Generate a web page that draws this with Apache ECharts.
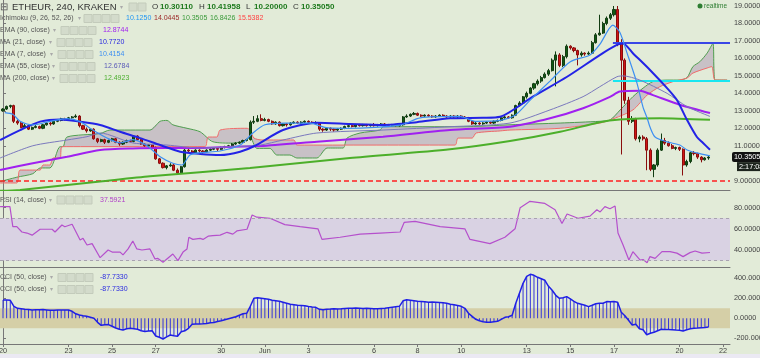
<!DOCTYPE html>
<html><head><meta charset="utf-8">
<style>html,body{margin:0;padding:0;background:#e2ebd8;}#c{width:760px;height:358px;}</style>
<script src="https://cdn.jsdelivr.net/npm/echarts@6/dist/echarts.min.js"></script>
</head><body><div id="c"></div><script>
// ---- x axis: one unit = one 4h bar, bar 0 = May 20 00:00 ----
const xTickBars = [0,18,30,42,60,72,84,102,114,126,144,156,168,186,198];
const xTickLabels = ['20','23','25','27','30','Jun','3','6','8','10','13','15','17','20','22'];
const priceTicks = [9,11,12,13,14,15,16,17,18,19];
const rsiTicks = [40,60,80];
const cciTicks = [-200,0,200,400];

// ---- candles [open, high, low, close] ----
const candles = [
[13.00,13.15,12.95,13.10],[13.10,13.30,13.05,13.25],[13.25,13.35,13.15,13.30],[13.30,13.35,12.30,12.40],
[12.40,12.50,12.20,12.30],[12.30,12.35,12.00,12.05],[12.05,12.25,12.00,12.15],[12.15,12.20,11.90,11.95],
[11.95,12.10,11.90,12.05],[12.05,12.20,12.00,12.10],[12.10,12.15,11.95,12.00],[12.00,12.25,11.95,12.20],
[12.20,12.35,12.15,12.30],[12.30,12.35,12.15,12.25],[12.25,12.45,12.20,12.40],[12.40,12.50,12.35,12.45],
[12.45,12.60,12.40,12.55],[12.55,12.60,12.45,12.50],[12.50,12.65,12.45,12.60],[12.60,12.70,12.55,12.65],
[12.65,12.80,12.60,12.70],[12.70,12.75,12.05,12.15],[12.15,12.20,11.90,11.95],[11.95,12.05,11.75,11.85],
[11.85,12.00,11.80,11.95],[11.95,12.00,11.35,11.40],[11.40,11.45,11.15,11.25],[11.25,11.40,11.20,11.35],
[11.35,11.40,11.10,11.20],[11.20,11.35,11.15,11.30],[11.30,11.45,11.25,11.40],[11.40,11.45,11.15,11.20],
[11.20,11.25,11.00,11.10],[11.10,11.25,11.05,11.20],[11.20,11.35,11.15,11.30],[11.30,11.35,11.20,11.25],
[11.25,11.60,11.20,11.55],[11.55,11.60,11.30,11.35],[11.35,11.40,11.05,11.10],[11.10,11.15,10.95,11.00],
[11.00,11.10,10.90,11.05],[11.05,11.10,10.85,10.90],[10.90,10.95,10.20,10.25],[10.25,10.30,9.95,10.00],
[10.00,10.05,9.70,9.75],[9.75,9.90,9.65,9.85],[9.85,10.00,9.80,9.90],[9.90,9.95,9.55,9.60],
[9.60,9.70,9.33,9.45],[9.45,9.85,9.40,9.80],[9.80,10.85,9.75,10.75],[10.75,10.85,10.60,10.70],
[10.70,10.75,10.50,10.60],[10.60,10.80,10.55,10.75],[10.75,10.80,10.60,10.70],[10.70,10.75,10.55,10.65],
[10.65,10.80,10.60,10.75],[10.75,10.85,10.70,10.80],[10.80,10.90,10.75,10.85],[10.85,10.90,10.70,10.80],
[10.80,10.95,10.75,10.90],[10.90,11.00,10.85,10.95],[10.95,11.05,10.90,11.00],[11.00,11.15,10.95,11.10],
[11.10,11.20,11.05,11.15],[11.15,11.25,11.10,11.20],[11.20,11.35,11.15,11.30],[11.30,11.40,11.25,11.35],
[11.35,12.45,11.30,12.35],[12.35,12.70,12.25,12.40],[12.40,12.75,12.35,12.55],[12.55,12.80,12.40,12.45],
[12.45,12.60,12.40,12.50],[12.50,12.55,12.35,12.40],[12.40,12.45,12.20,12.25],[12.25,12.40,12.20,12.35],
[12.35,12.40,12.10,12.15],[12.15,12.30,12.10,12.25],[12.25,12.30,12.10,12.20],[12.20,12.35,12.15,12.30],
[12.30,12.40,12.25,12.35],[12.35,12.40,12.25,12.30],[12.30,12.40,12.25,12.35],[12.35,12.45,12.30,12.40],
[12.40,12.45,12.30,12.35],[12.35,12.40,12.25,12.30],[12.30,12.40,12.25,12.30],[12.30,12.35,11.85,11.95],
[11.95,12.00,11.80,11.90],[11.90,12.05,11.85,12.00],[12.00,12.05,11.85,11.95],[11.95,12.00,11.80,11.90],
[11.90,12.00,11.85,11.95],[11.95,12.05,11.90,12.00],[12.00,12.15,11.95,12.10],[12.10,12.20,12.05,12.15],
[12.15,12.20,12.05,12.10],[12.10,12.25,12.05,12.20],[12.20,12.25,12.10,12.15],[12.15,12.25,12.10,12.20],
[12.20,12.25,12.10,12.15],[12.15,12.25,12.10,12.20],[12.20,12.30,12.10,12.15],[12.15,12.25,12.10,12.20],
[12.20,12.30,12.15,12.25],[12.25,12.30,12.15,12.20],[12.20,12.25,12.10,12.15],[12.15,12.25,12.10,12.20],
[12.20,12.25,12.10,12.15],[12.15,12.25,12.10,12.20],[12.20,12.70,12.15,12.65],[12.65,12.80,12.60,12.70],
[12.70,12.85,12.65,12.80],[12.80,12.93,12.75,12.85],[12.85,12.90,12.70,12.75],[12.75,12.80,12.65,12.70],
[12.70,12.80,12.65,12.75],[12.75,12.80,12.65,12.70],[12.70,12.75,12.60,12.65],[12.65,12.75,12.60,12.70],
[12.70,12.80,12.65,12.75],[12.75,12.80,12.65,12.70],[12.70,12.75,12.60,12.65],[12.65,12.75,12.60,12.70],
[12.70,12.75,12.60,12.65],[12.65,12.75,12.60,12.70],[12.70,12.75,12.60,12.65],[12.65,12.70,12.55,12.60],
[12.60,12.65,12.35,12.40],[12.40,12.45,12.20,12.25],[12.25,12.35,12.20,12.30],[12.30,12.35,12.20,12.25],
[12.25,12.35,12.20,12.30],[12.30,12.40,12.25,12.35],[12.35,12.40,12.25,12.30],[12.30,12.45,12.25,12.40],
[12.40,12.50,12.35,12.45],[12.45,12.65,12.40,12.60],[12.60,12.70,12.55,12.65],[12.65,12.70,12.55,12.60],
[12.60,12.80,12.55,12.75],[12.75,13.35,12.70,13.30],[13.30,13.55,13.25,13.45],[13.45,13.85,13.40,13.80],
[13.80,14.10,13.70,14.00],[14.00,14.35,13.95,14.30],[14.30,14.60,14.20,14.55],[14.55,14.80,14.45,14.70],
[14.70,15.00,14.60,14.90],[14.90,15.20,14.85,15.10],[15.10,15.40,15.00,15.30],[15.30,16.00,15.25,15.90],
[15.90,16.40,14.40,16.20],[16.20,16.30,15.50,15.60],[15.60,16.20,15.50,16.10],[16.10,16.80,16.00,16.70],
[16.70,16.75,16.50,16.60],[16.60,16.65,16.35,16.45],[16.45,16.50,15.60,16.20],[16.20,16.40,16.10,16.30],
[16.30,16.35,16.15,16.25],[16.25,16.40,16.20,16.30],[16.30,17.00,16.25,16.90],[16.90,17.45,16.85,17.35],
[17.35,18.50,17.30,17.45],[17.45,18.10,17.40,18.00],[18.00,18.40,17.90,18.30],[18.30,18.60,18.20,18.50],
[18.50,19.00,18.40,18.80],[18.80,19.00,16.70,16.90],[16.90,17.10,10.50,15.90],[15.90,16.00,13.40,13.60],
[13.60,13.80,12.20,12.40],[12.40,12.70,12.30,12.55],[12.55,12.60,11.30,11.40],[11.40,11.60,11.20,11.50],
[11.50,11.60,11.30,11.40],[11.40,11.50,9.60,10.75],[10.75,10.85,9.55,9.65],[9.65,9.95,9.20,9.90],
[9.90,10.85,9.80,10.75],[10.75,11.70,10.70,11.30],[11.30,11.45,11.05,11.15],[11.15,11.25,10.95,11.00],
[11.00,11.10,10.80,10.85],[10.85,10.95,10.75,10.90],[10.90,10.95,10.70,10.80],[10.80,10.85,9.30,9.90],
[9.90,10.20,9.80,10.10],[10.10,10.65,10.00,10.60],[10.60,10.70,10.45,10.55],[10.55,10.60,10.25,10.35],
[10.35,10.40,10.05,10.20],[10.20,10.35,10.15,10.30],[10.3011,10.41958,10.20,10.3505]
];

// ---- indicator lines [bar, value] ----
const ma21 = [[-0.8,11.33],[4.7,11.9],[10.2,12.38],[15.7,12.51],[21.2,12.38],[26.7,12.19],[32.2,11.8],[37.7,11.44],[43.2,11.04],[48.7,10.66],[54.2,10.53],[59.7,10.47],[65.2,10.66],[69.3,11.0],[77.0,11.9],[86.3,12.32],[95.4,12.25],[104.5,12.19],[113.8,12.35],[122.9,12.57],[132.0,12.6],[136.7,12.66],[145.7,13.81],[155.1,14.95],[164.1,16.19],[168.8,16.77],[170.5,16.86],[173.2,16.3],[177.9,15.34],[182.6,14.3],[185.3,13.62],[188.1,12.47],[190.8,11.5],[192.5,11.16],[194.4,10.77]];
const ema7 = [[0.5,12.9],[2.7,12.8],[4.7,12.4],[8.2,12.19],[12.9,12.4],[17.6,12.55],[21.2,12.38],[24.7,11.9],[28.6,11.44],[32.2,11.16],[35.7,11.35],[39.6,11.0],[43.2,10.37],[46.7,10.0],[49.2,9.9],[51.4,10.47],[54.2,10.6],[59.7,10.7],[65.2,11.04],[68.7,11.73],[72.0,12.2],[77.5,12.3],[84.4,12.3],[88.5,12.05],[94.0,12.0],[109.2,12.18],[114.7,12.6],[125.7,12.68],[129.8,12.4],[136.7,12.45],[140.8,12.75],[144.9,13.6],[150.4,14.7],[155.9,15.8],[161.4,16.2],[164.1,16.8],[167.7,17.9],[169.6,17.5],[171.6,16.3],[174.3,14.6],[176.0,13.2],[177.1,12.6],[177.9,12.07],[179.3,11.5],[182.6,11.22],[186.1,11.04],[188.1,10.76],[190.8,10.59],[194.4,10.42]];
const ema55 = [[-0.8,10.3],[8.2,11.0],[17.6,11.33],[23.1,11.52],[26.7,11.73],[35.7,11.16],[45.1,11.04],[54.2,10.87],[63.2,10.95],[70.7,11.04],[77.0,11.33],[86.3,11.73],[104.5,11.9],[122.9,12.09],[139.4,12.3],[150.4,13.05],[159.5,13.81],[164.1,14.38],[168.8,14.95],[170.5,15.0],[175.1,14.76],[182.6,14.0],[188.1,13.24],[194.4,12.68]];
const ema90 = [[-0.8,9.61],[8.2,10.0],[17.6,10.37],[26.7,10.76],[35.7,10.85],[45.1,10.87],[54.2,10.87],[63.2,10.95],[70.7,10.98],[86.3,11.23],[104.5,11.52],[122.9,11.9],[139.4,12.09],[150.4,12.57],[159.5,13.15],[166.9,13.8],[169.6,14.1],[175.1,14.15],[178.7,13.9],[186.1,13.35],[194.4,12.87]];
const ma200 = [[-0.8,8.42],[4.7,8.47],[26.7,8.95],[40.4,9.25],[67.9,9.73],[95.4,10.3],[122.9,10.8],[139.4,11.27],[153.2,11.8],[164.1,12.35],[169.6,12.5],[180.6,12.58],[194.4,12.49]];
const ichiA = [[-0.8,8.95],[3.8,9.2],[8.2,9.4],[10.2,9.73],[12.9,9.73],[15.7,10.95],[16.5,10.95],[17.6,11.5],[26.7,11.7],[29.4,11.9],[40.4,11.9],[43.2,12.4],[45.1,12.45],[46.7,12.2],[50.6,12.0],[54.2,11.8],[57.7,11.23],[63.2,11.15],[67.1,11.33],[67.9,11.52],[69.8,10.85],[73.4,10.85],[75.3,10.47],[78.9,10.47],[80.8,10.3],[86.3,10.3],[89.1,10.87],[93.5,10.87],[94.6,11.44],[98.2,11.73],[103.7,11.9],[104.5,12.09],[126.5,12.09],[139.4,12.2],[153.2,12.3],[164.1,12.4],[166.9,12.47],[169.7,13.05],[173.2,13.81],[176.0,14.3],[178.7,14.67],[182.6,14.76],[186.1,14.76],[188.1,14.9],[189.7,15.53],[191.6,15.81],[193.6,16.3],[195.2,16.86],[195.8,14.76],[199.1,14.76]];
const ichiB = [[-0.8,8.87],[3.8,8.87],[4.7,9.61],[10.2,9.61],[11.0,9.9],[12.9,9.9],[13.8,10.3],[15.7,10.3],[16.2,10.95],[55.5,10.95],[56.4,11.5],[58.8,11.5],[59.7,11.9],[67.1,12.0],[67.9,11.9],[69.0,11.44],[71.2,11.33],[80.0,11.33],[80.8,11.04],[124.3,11.04],[125.1,11.44],[129.0,11.44],[130.1,11.73],[136.7,11.85],[139.4,11.9],[153.2,12.0],[164.1,12.3],[166.9,12.47],[173.2,13.05],[177.1,13.9],[180.6,14.38],[184.2,14.67],[188.1,14.88],[189.7,15.16],[193.6,15.45],[194.9,15.53],[195.8,14.76],[199.1,14.76]];

// horizontal drawings
const supportLevel = 9.0;
const resistLevel = 16.88;
const cyanLevel = 14.72;
const drawStartBar = 167.7;
const countdown = '2:17:08';

// ---- RSI [bar, value] ----
const rsi = [[-0.8,81],[1.9,81],[2.7,62],[3.8,62],[5.2,57],[6.6,56],[8.0,54],[10.2,59.6],[13.5,59.6],[14.3,57],[16.2,63.6],[17.0,62],[19.0,64.3],[21.2,49.5],[22.0,51],[23.1,44.7],[24.5,46],[26.7,32.7],[28.9,40],[30.0,38],[32.2,38],[33.0,35.3],[34.4,41],[35.7,48.5],[36.8,41],[38.2,40],[40.4,41],[41.8,31.5],[42.6,32],[44.0,28.4],[46.7,36.2],[48.1,29.9],[49.5,38],[50.6,41],[51.1,52],[52.2,50],[54.2,51],[55.0,50],[56.4,53],[57.7,53.5],[59.7,54],[61.6,56.7],[63.2,55],[64.3,58],[67.1,59.6],[68.5,73],[69.8,71],[73.4,70],[77.5,64],[81.7,62],[86.6,60],[87.7,50],[92.7,52],[98.2,55],[103.7,56],[109.2,57],[110.3,66],[113.3,67],[120.2,62],[127.0,60],[128.4,50],[133.9,46],[138.0,52],[140.8,60],[142.2,80],[144.9,86],[149.0,84],[151.8,78],[153.7,65],[155.1,74],[158.1,70],[161.4,72],[163.3,78],[164.2,76],[165.5,81],[166.9,79],[168.3,81.6],[169.1,56],[170.5,44.7],[172.1,30.5],[173.2,38.4],[175.2,30.5],[176.0,31],[177.1,28],[177.9,33.7],[179.3,32],[181.2,38.4],[183.4,38.4],[185.3,37],[187.0,33.7],[188.9,37.5],[190.3,39],[192.2,37],[194.4,37.5921]];

// ---- CCI, one value per bar ----
const cci = [183,182,180,120,100,95,90,88,84,85,86,87,84,81,80,82,83,84,83,70,
45,33,25,20,10,0,-40,-70,-65,-63,-80,-97,-110,-117,-105,-100,-105,-110,-125,-133,
-128,-125,-177,-190,-207,-185,-167,-175,-180,-135,-125,-100,-60,-58,-57,-55,-52,-45,-42,-33,
-25,-15,-5,5,15,30,45,50,120,200,205,200,195,190,180,175,170,160,150,140,
135,130,128,125,118,112,110,90,85,90,92,95,93,95,98,100,100,102,100,98,
100,98,96,95,98,100,105,110,115,120,175,185,180,175,170,168,165,160,162,160,
158,155,150,140,135,128,120,100,50,20,-10,-25,-35,-40,-40,-35,-30,-10,10,15,
30,150,250,350,420,440,430,410,395,380,320,280,230,200,205,217,195,170,150,140,
130,117,130,145,150,150,167,165,167,160,60,25,-20,-67,-60,-105,-115,-165,-150,-140,
-125,-110,-112,-113,-115,-118,-120,-127,-115,-105,-100,-98,-95,-92,-87.733];

const X_MIN = -0.825, X_MAX = 199.9;
const FONT = '"Liberation Sans", Arial, sans-serif';

const candleData = candles.map((c, i) => [i, c[0], c[3], c[2], c[1]]);
const last = candles[candles.length - 1];
const cciData = cci.map((v, i) => [i, v]);

function icons(x, y, n) {
  const out = [];
  for (let i = 0; i < n; i++) {
    out.push({type:'rect', shape:{x:x + i*9, y:y-4, width:8, height:8}, style:{fill:'#d3dbcb', stroke:'#c3cbbb', lineWidth:1}});
  }
  return out;
}
function txt(x, y, s, color, size, bold) {
  return {type:'text', x:x, y:y, style:{text:s, fill:color, font:(bold?'bold ':'') + size + 'px ' + FONT, verticalAlign:'middle'}};
}
const legendRows = [
  {name:'Ichimoku (9, 26, 52, 26)', y:18.5, arrowX:78, iconX:84, valX:126, vals:[['10.1250','#2196f3'],['14.0445','#9c2a2a'],['10.3505','#3a9a3a'],['16.8426','#3a9a3a'],['15.5382','#ff4040']]},
  {name:'EMA (90, close)', y:30.5, arrowX:53, iconX:61, valX:103, vals:[['12.8744','#a020f0']]},
  {name:'MA (21, close)', y:42.5, arrowX:49, iconX:57, valX:99, vals:[['10.7720','#2525e0']]},
  {name:'EMA (7, close)', y:54.5, arrowX:50, iconX:58, valX:99, vals:[['10.4154','#3d8ff2']]},
  {name:'EMA (55, close)', y:66.5, arrowX:52, iconX:60, valX:104, vals:[['12.6784','#5a5ab8']]},
  {name:'MA (200, close)', y:78.5, arrowX:52, iconX:60, valX:104, vals:[['12.4923','#4caf30']]},
  {name:'RSI (14, close)', y:200, arrowX:49, iconX:57, valX:100, vals:[['37.5921','#b040c8']]},
  {name:'CCI (50, close)', y:277.5, arrowX:50, iconX:58, valX:100, vals:[['-87.7330','#2a2ae0']]},
  {name:'CCI (50, close)', y:289.5, arrowX:50, iconX:58, valX:100, vals:[['-87.7330','#2a2ae0']]}
];
const graphics = [];
graphics.push({type:'rect', shape:{x:0, y:354, width:760, height:4}, style:{fill:'#ebe9f3'}});
graphics.push(txt(0, 7, '⊟', '#555', 9.5));
graphics.push(txt(12, 7, 'ETHEUR, 240, KRAKEN', '#333', 9.5));
graphics.push(txt(120, 7, '▾', '#aaa', 6));
graphics.push(...icons(129, 7, 2));
const ohlcLabels = ['O','H','L','C'];
const ohlcVals = [last[0], last[1], last[2], last[3]];
let ox = 152;
for (let i = 0; i < 4; i++) {
  graphics.push(txt(ox, 7, ohlcLabels[i], '#333', 8));
  graphics.push(txt(ox + 8, 7, ohlcVals[i].toFixed(5), '#1e7a1e', 8, true));
  ox += 47;
}
legendRows.forEach(r => {
  graphics.push(txt(0, r.y, r.name, '#555', 7));
  graphics.push(txt(r.arrowX, r.y, '▾', '#aaa', 6));
  graphics.push(...icons(r.iconX, r.y, 4));
  r.vals.forEach((v, i) => graphics.push(txt(r.valX + i*28, r.y, v[0], v[1], 7)));
});
graphics.push({type:'circle', shape:{cx:700, cy:6, r:2.5}, style:{fill:'#2e7d32'}});
graphics.push(txt(704, 6, 'realtime', '#2e7d32', 6.5));

const axisLabelStyle = {color:'#444', fontSize:7.3, fontFamily:FONT};
function yAx(grid, min, max, ticks, dec) {
  return {type:'value', gridIndex:grid, position:'right', min:min, max:max, scale:true,
    splitLine:{show:false},
    axisLine:{show:true, lineStyle:{color:'#777'}},
    axisTick:{show:true, length:3, lineStyle:{color:'#777'}, customValues:ticks},
    axisLabel:Object.assign({customValues:ticks, margin:4, formatter:v => Number(v).toFixed(dec)}, axisLabelStyle)};
}
function xAx(grid, showLabels) {
  return {type:'value', gridIndex:grid, min:X_MIN, max:X_MAX,
    splitLine:{show:false},
    axisLine:{show:true, onZero:false, lineStyle:{color:'#777'}},
    axisTick:{show:showLabels, length:3, lineStyle:{color:'#777'}, customValues:xTickBars},
    axisLabel:Object.assign({show:showLabels, margin:3, customValues:xTickBars,
      formatter:v => { const i = xTickBars.indexOf(Math.round(v)); return i >= 0 ? xTickLabels[i] : ''; }}, axisLabelStyle)};
}

const chart = echarts.init(document.getElementById('c'), null, {renderer:'canvas'});
const lineS = (name, data, color, width, z) => ({name, type:'line', xAxisIndex:0, yAxisIndex:0, data, showSymbol:false, symbol:'none', smooth:0.25, z:z||4,
  lineStyle:{color, width}, silent:true});

chart.setOption({
  animation:false,
  backgroundColor:'#e2ebd8',
  textStyle:{fontFamily:FONT},
  grid:[
    {left:0, right:30, top:0, height:190, outerBoundsMode:'none', containLabel:false},
    {left:0, right:30, top:190, height:77, outerBoundsMode:'none', containLabel:false},
    {left:0, right:30, top:267, height:77, outerBoundsMode:'none', containLabel:false}
  ],
  xAxis:[xAx(0,false), xAx(1,false), xAx(2,true)],
  yAxis:[yAx(0, 8.468, 19.343, priceTicks, 5), yAx(1, 23.9, 96.7, rsiTicks, 4), yAx(2, -257, 513, cciTicks, 4)],
  graphic:graphics,
  series:[
    {type:'custom', xAxisIndex:0, yAxisIndex:0, z:1, silent:true, data:[[100,12]],
      renderItem:function(params, api){
        const pts = [];
        ichiA.forEach(p => pts.push(api.coord(p)));
        for (let i = ichiB.length-1; i >= 0; i--) pts.push(api.coord(ichiB[i]));
        return {type:'polygon', shape:{points:pts}, style:{fill:'rgba(150,110,160,0.33)'}};
      }},
    lineS('ichiA', ichiA, '#4f9d4f', 1, 2),
    lineS('ichiB', ichiB, '#f06a6a', 1, 2),
    {type:'candlestick', xAxisIndex:0, yAxisIndex:0, data:candleData, barWidth:2.6, z:3, silent:true,
      itemStyle:{color:'#0f5a12', color0:'#d01515', borderColor:'#123c12', borderColor0:'#8a0d0d', borderWidth:1},
      markLine:{silent:true, symbol:['none','none'], animation:false, label:{show:false},
        data:[
          [{coord:[X_MIN, supportLevel], lineStyle:{color:'#ff2020', type:[5,3], width:1.5}}, {coord:[X_MAX, supportLevel]}],
          [{coord:[drawStartBar, resistLevel], lineStyle:{color:'#3a46e6', type:'solid', width:2}}, {coord:[X_MAX, resistLevel]}],
          [{coord:[drawStartBar, cyanLevel], lineStyle:{color:'#19e6f0', type:'solid', width:2}}, {coord:[X_MAX, cyanLevel]}]
        ]}},
    lineS('ma200', ma200, '#4caf2a', 2, 5),
    lineS('ema90', ema90, '#a020f0', 2, 5),
    lineS('ema55', ema55, '#7a78bd', 1, 5),
    lineS('ma21', ma21, '#2323e6', 2, 6),
    lineS('ema7', ema7, '#3d8ff2', 1.2, 6),
    {type:'line', xAxisIndex:1, yAxisIndex:1, data:rsi, showSymbol:false, symbol:'none', silent:true,
      lineStyle:{color:'#b550cc', width:1.2}, z:4,
      markArea:{silent:true, itemStyle:{color:'#d9d2e3'}, data:[[{coord:[X_MIN,70]},{coord:[X_MAX,30]}]]},
      markLine:{silent:true, symbol:['none','none'], label:{show:false},
        lineStyle:{color:'#a8a2b0', type:[3,3], width:1},
        data:[[{coord:[X_MIN,70]},{coord:[X_MAX,70]}],[{coord:[X_MIN,30]},{coord:[X_MAX,30]}]]}},
    {type:'bar', xAxisIndex:2, yAxisIndex:2, data:cciData, barWidth:1, silent:true, z:3,
      itemStyle:{color:'#3434d8'},
      markArea:{silent:true, itemStyle:{color:'#d5cfa7'}, data:[[{coord:[X_MIN,100]},{coord:[X_MAX,-100]}]]}},
    {type:'line', xAxisIndex:2, yAxisIndex:2, data:cciData, showSymbol:false, symbol:'none', silent:true,
      lineStyle:{color:'#1f1fe6', width:1.5}, z:4}
  ]
});

// current price + countdown boxes placed through the price axis scale
const py = chart.convertToPixel({xAxisIndex:0, yAxisIndex:0}, [X_MAX, last[3]]);
const ax = py[0];
const extra = graphics.concat([
  {type:'rect', z:100, shape:{x:ax + 2, y:py[1] - 5, width:30, height:10, r:2}, style:{fill:'#111'}},
  {type:'text', z:101, x:ax + 4, y:py[1], style:{text:last[3].toFixed(5), fill:'#fff', font:'7.3px ' + FONT, verticalAlign:'middle'}},
  {type:'rect', z:100, shape:{x:ax + 7, y:py[1] + 5, width:25, height:9}, style:{fill:'#1d241d'}},
  {type:'text', z:101, x:ax + 9, y:py[1] + 9.5, style:{text:countdown, fill:'#fff', font:'7.3px ' + FONT, verticalAlign:'middle'}}
]);
chart.setOption({graphic:extra});
</script></body></html>
